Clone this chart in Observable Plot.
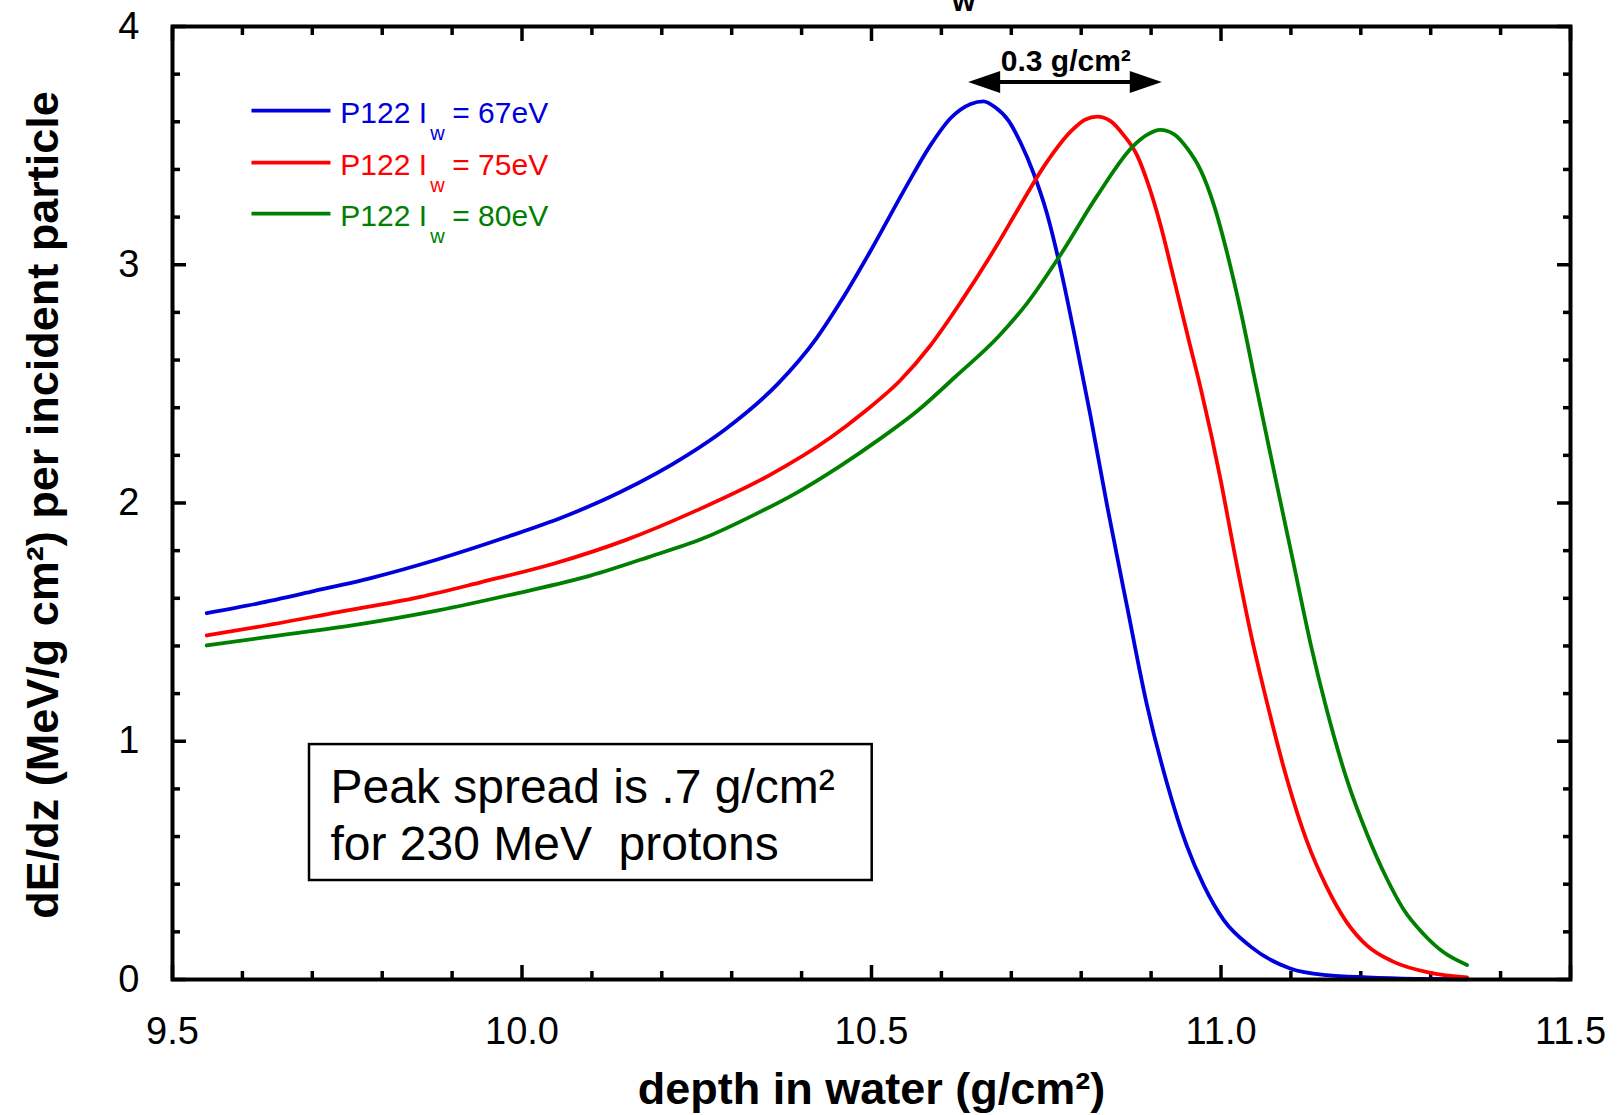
<!DOCTYPE html>
<html>
<head>
<meta charset="utf-8">
<script src="https://cdn.jsdelivr.net/npm/d3@7"></script>
<script src="https://cdn.jsdelivr.net/npm/@observablehq/plot@0.6"></script>
<style>
  html, body { margin: 0; padding: 0; background: #fff; }
  svg { display: block; }
</style>
</head>
<body>
<div id="chart"></div>
<script>
// ---------- data ----------
const depthBlue = [9.549, 9.620, 9.702, 9.785, 9.880, 9.976, 10.058, 10.140, 10.236, 10.291, 10.366, 10.421, 10.459, 10.499, 10.550, 10.584, 10.613, 10.642, 10.660, 10.677, 10.696, 10.713, 10.732, 10.751, 10.770, 10.792, 10.813, 10.837, 10.866, 10.894, 10.923, 10.951, 10.975, 11.004, 11.042, 11.099, 11.151, 11.209, 11.280, 11.352];
const doseBlue  = [1.538, 1.577, 1.630, 1.686, 1.764, 1.855, 1.940, 2.045, 2.200, 2.310, 2.500, 2.690, 2.860, 3.060, 3.330, 3.500, 3.615, 3.675, 3.686, 3.661, 3.605, 3.514, 3.383, 3.215, 2.990, 2.682, 2.370, 1.990, 1.560, 1.153, 0.821, 0.562, 0.397, 0.249, 0.139, 0.046, 0.018, 0.009, 0.003, 0.001];

const depthRed = [9.549, 9.620, 9.737, 9.853, 9.942, 10.045, 10.147, 10.250, 10.353, 10.442, 10.489, 10.541, 10.584, 10.627, 10.677, 10.713, 10.746, 10.787, 10.806, 10.823, 10.842, 10.861, 10.880, 10.894, 10.913, 10.932, 10.954, 10.971, 11.000, 11.018, 11.042, 11.066, 11.094, 11.123, 11.151, 11.180, 11.209, 11.247, 11.300, 11.352];
const doseRed  = [1.444, 1.479, 1.542, 1.605, 1.668, 1.745, 1.843, 1.969, 2.115, 2.276, 2.381, 2.514, 2.660, 2.840, 3.070, 3.250, 3.410, 3.565, 3.610, 3.622, 3.603, 3.543, 3.459, 3.354, 3.172, 2.948, 2.682, 2.481, 2.090, 1.810, 1.460, 1.160, 0.845, 0.580, 0.390, 0.240, 0.142, 0.074, 0.028, 0.009];

const depthGreen = [9.549, 9.634, 9.757, 9.880, 9.990, 10.099, 10.181, 10.264, 10.332, 10.394, 10.455, 10.510, 10.565, 10.620, 10.682, 10.723, 10.770, 10.823, 10.875, 10.894, 10.913, 10.933, 10.952, 10.971, 10.990, 11.009, 11.028, 11.051, 11.080, 11.104, 11.128, 11.151, 11.180, 11.209, 11.237, 11.261, 11.290, 11.318, 11.352];
const doseGreen  = [1.402, 1.437, 1.486, 1.549, 1.619, 1.696, 1.773, 1.857, 1.950, 2.045, 2.155, 2.265, 2.385, 2.530, 2.700, 2.840, 3.040, 3.290, 3.500, 3.545, 3.566, 3.547, 3.487, 3.396, 3.249, 3.046, 2.808, 2.481, 2.075, 1.743, 1.411, 1.135, 0.840, 0.610, 0.425, 0.295, 0.190, 0.115, 0.061];

const seriesColors = ["#0000dd", "#ff0000", "#008000"];
const legendHead = ["P122 I", "P122 I", "P122 I"];
const legendSub = ["w", "w", "w"];
const legendTail = ["= 67eV", "= 75eV", "= 80eV"];

const xTickValues = [9.5, 10.0, 10.5, 11.0, 11.5];
const xTickLabels = ["9.5", "10.0", "10.5", "11.0", "11.5"];
const yTickValues = [0, 1, 2, 3, 4];
const yTickLabels = ["0", "1", "2", "3", "4"];

const xLabel = "depth in water (g/cm\u00b2)";
const yLabel = "dE/dz (MeV/g cm\u00b2) per incident particle";
const boxLines = ["Peak spread is .7 g/cm\u00b2", "for 230 MeV\u00a0 protons"];
const arrowLabel = "0.3 g/cm\u00b2";
const titleFragment = "w";

// ---------- annotation placement (data units) ----------
const legendX = [9.613, 9.726, 9.740];
const legendY = [3.647, 3.429, 3.215];
const boxRect = {x1: 9.696, x2: 10.501, y1: 0.4155, y2: 0.986};
const boxTextX = 9.726, boxTextY = [0.739, 0.4995];
const arrowX = [10.639, 10.916], arrowY = 3.765;
const arrowTextPos = {x: 10.778, y: 3.815};
const titlePos = {x: 10.632, y: 4.067};

// ---------- helpers ----------
const toRows = (xs, ys) => xs.map((x, i) => ({x, y: ys[i]}));
const rowsBlue = toRows(depthBlue, doseBlue);
const rowsRed = toRows(depthRed, doseRed);
const rowsGreen = toRows(depthGreen, doseGreen);

const xMinor = d3.range(96, 115).map(d => d / 10).filter(d => Math.abs(d * 2 - Math.round(d * 2)) > 1e-6);
const yMinor = d3.range(1, 20).map(d => d / 5).filter(d => Math.abs(d - Math.round(d)) > 1e-6);

const legendRows = legendHead.map((h, i) => ({head: h, sub: legendSub[i], tail: legendTail[i], color: seriesColors[i], y: legendY[i]}));

function arrowMark(index, scales) {
  const x1 = scales.x(arrowX[0]), x2 = scales.x(arrowX[1]), yy = scales.y(arrowY);
  const L = 32, H = 11;
  const g = d3.create("svg:g");
  g.append("line")
    .attr("x1", x1 + L - 2).attr("x2", x2 - L + 2)
    .attr("y1", yy).attr("y2", yy)
    .attr("stroke", "black").attr("stroke-width", 4);
  g.append("path")
    .attr("d", `M${x1},${yy}L${x1 + L},${yy - H}L${x1 + L},${yy + H}Z M${x2},${yy}L${x2 - L},${yy - H}L${x2 - L},${yy + H}Z`)
    .attr("fill", "black");
  return g.node();
}

const tickStyle = {tickFormat: () => "", label: null, strokeWidth: 3.5};
const lineStyle = {x: "x", y: "y", strokeWidth: 3.8, curve: "monotone-x"};

const chart = Plot.plot({
  width: 1621,
  height: 1115,
  marginLeft: 172,
  marginRight: 51,
  marginTop: 26,
  marginBottom: 136,
  style: {fontFamily: "'Liberation Sans', Arial, Helvetica, sans-serif", background: "white", color: "black", overflow: "visible"},
  x: {domain: [9.5, 11.5]},
  y: {domain: [0, 4]},
  marks: [
    // tick labels
    Plot.axisX(xTickValues, {anchor: "bottom", tickSize: 0, tickPadding: 38, fontSize: 38, label: null,
      tickFormat: d => xTickLabels[xTickValues.indexOf(d)]}),
    Plot.axisY(yTickValues, {anchor: "left", tickSize: 0, tickPadding: 33, fontSize: 38, label: null,
      tickFormat: d => yTickLabels[yTickValues.indexOf(d)]}),
    // inward ticks, all four sides
    Plot.axisX(xMinor, {anchor: "bottom", tickSize: -8, ...tickStyle}),
    Plot.axisX(xTickValues, {anchor: "bottom", tickSize: -14, ...tickStyle}),
    Plot.axisX(xMinor, {anchor: "top", tickSize: -8, ...tickStyle}),
    Plot.axisX(xTickValues, {anchor: "top", tickSize: -14, ...tickStyle}),
    Plot.axisY(yMinor, {anchor: "left", tickSize: -8, ...tickStyle}),
    Plot.axisY(yTickValues, {anchor: "left", tickSize: -14, ...tickStyle}),
    Plot.axisY(yMinor, {anchor: "right", tickSize: -8, ...tickStyle}),
    Plot.axisY(yTickValues, {anchor: "right", tickSize: -14, ...tickStyle}),

    // curves
    Plot.line(rowsBlue, {...lineStyle, stroke: seriesColors[0]}),
    Plot.line(rowsRed, {...lineStyle, stroke: seriesColors[1]}),
    Plot.line(rowsGreen, {...lineStyle, stroke: seriesColors[2]}),

    // legend
    Plot.link(legendRows, {x1: () => legendX[0], x2: () => legendX[1], y1: "y", y2: "y", stroke: "color", strokeWidth: 3.8}),
    Plot.text(legendRows, {x: () => legendX[2], y: "y", text: "head", fill: "color", fontSize: 30, textAnchor: "start", lineAnchor: "bottom", dy: 12}),
    Plot.text(legendRows, {x: () => legendX[2], y: "y", text: "sub", fill: "color", fontSize: 20, textAnchor: "start", lineAnchor: "bottom", dx: 90, dy: 29}),
    Plot.text(legendRows, {x: () => legendX[2], y: "y", text: "tail", fill: "color", fontSize: 30, textAnchor: "start", lineAnchor: "bottom", dx: 112, dy: 12}),

    // annotation box
    Plot.rect([boxRect], {x1: "x1", x2: "x2", y1: "y1", y2: "y2", fill: "white", stroke: "black", strokeWidth: 2.5}),
    Plot.text(boxLines, {x: () => boxTextX, y: (d, i) => boxTextY[i], text: d => d, fontSize: 48, textAnchor: "start", lineAnchor: "bottom", fill: "black"}),

    // peak-shift arrow
    arrowMark,
    Plot.text([arrowLabel], {x: () => arrowTextPos.x, y: () => arrowTextPos.y, text: d => d, fontSize: 30, fontWeight: "bold", lineAnchor: "bottom", fill: "black"}),

    // cut-off title fragment
    Plot.text([titleFragment], {x: () => titlePos.x, y: () => titlePos.y, text: d => d, fontSize: 30, fontWeight: "bold", lineAnchor: "bottom", fill: "black"}),

    // axis titles
    Plot.text([xLabel], {frameAnchor: "bottom", text: d => d, dy: 124, fontSize: 45, fontWeight: "bold", textAnchor: "middle", lineAnchor: "bottom", fill: "black"}),
    Plot.text([yLabel], {frameAnchor: "left", text: d => d, rotate: -90, dx: -115, dy: 2, fontSize: 45, fontWeight: "bold", textAnchor: "middle", lineAnchor: "bottom", fill: "black"}),

    // frame
    Plot.frame({stroke: "black", strokeWidth: 4})
  ]
});

document.getElementById("chart").appendChild(chart);
</script>
</body>
</html>
